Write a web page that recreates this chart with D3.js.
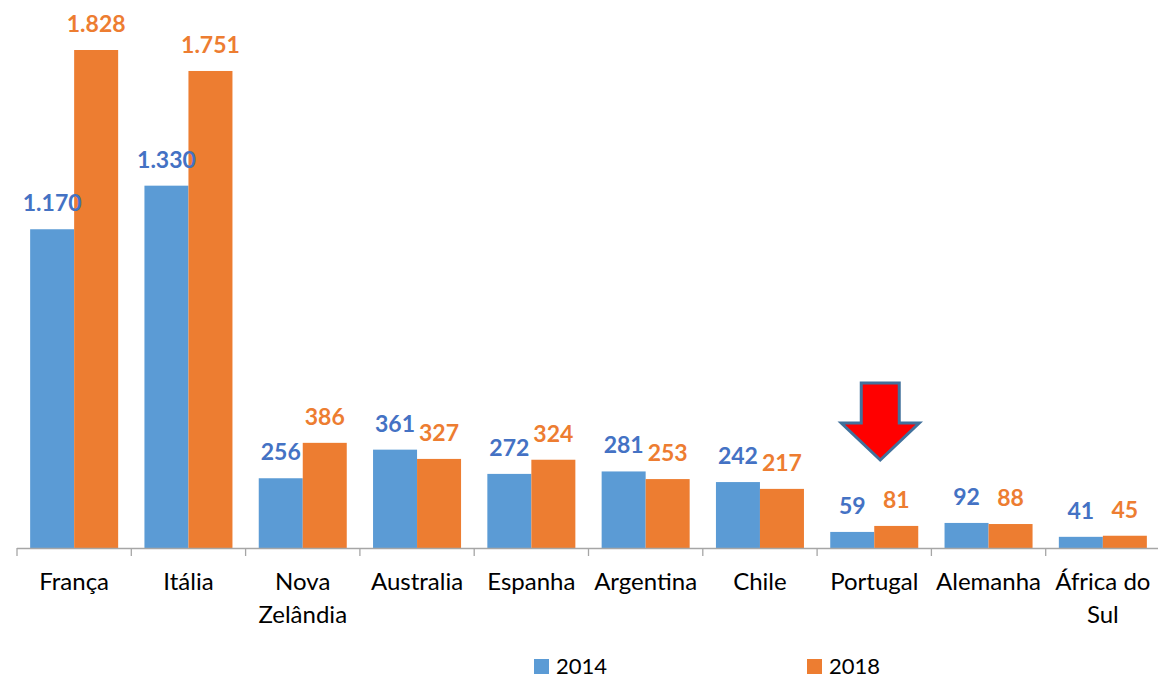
<!DOCTYPE html>
<html>
<head>
<meta charset="utf-8">
<script src="https://cdn.jsdelivr.net/npm/d3@7"></script>
<style>
  body { margin: 0; background: #fff; }
  text { font-family: Lato, "Open Sans", sans-serif; }
</style>
</head>
<body>
<div id="chart"></div>
<script>
// data
const countries = ["França", "Itália", "Nova Zelândia", "Australia", "Espanha", "Argentina", "Chile", "Portugal", "Alemanha", "África do Sul"];
const labelLines = [["França"], ["Itália"], ["Nova", "Zelândia"], ["Australia"], ["Espanha"], ["Argentina"], ["Chile"], ["Portugal"], ["Alemanha"], ["África do", "Sul"]];
const values2014 = [1170, 1330, 256, 361, 272, 281, 242, 59, 92, 41];
const values2018 = [1828, 1751, 386, 327, 324, 253, 217, 81, 88, 45];
const seriesNames = ["2014", "2018"];

const width = 1158, height = 679;
const barColors = ["#5B9BD5", "#ED7D31"];
const labelColors = ["#4472C4", "#ED7D31"];

const svg = d3.select("#chart").append("svg")
    .attr("width", width)
    .attr("height", height);

const x = d3.scaleBand()
    .domain(countries)
    .range([17, 1160])
    .paddingInner(0.23)
    .paddingOuter(0.115);

const x1 = d3.scaleBand()
    .domain(seriesNames)
    .range([0, x.bandwidth()]);

const y = d3.scaleLinear()
    .domain([0, 1828])
    .range([548, 50]);

const rows = countries.map((c, i) => ({country: c, vals: [values2014[i], values2018[i]]}));

// bars
const groups = svg.append("g").selectAll("g")
    .data(rows)
    .join("g")
    .attr("transform", d => "translate(" + x(d.country) + ",0)");

groups.selectAll("rect")
    .data(d => d.vals.map((v, k) => ({key: seriesNames[k], k: k, v: v})))
    .join("rect")
    .attr("x", d => x1(d.key))
    .attr("width", x1.bandwidth())
    .attr("y", d => y(d.v))
    .attr("height", d => y(0) - y(d.v))
    .attr("fill", d => barColors[d.k]);

const fmt = d3.formatLocale({decimal: ",", thousands: ".", grouping: [3]}).format(",");

groups.selectAll("text.val")
    .data(d => d.vals.map((v, k) => ({key: seriesNames[k], k: k, v: v})))
    .join("text")
    .attr("class", "val")
    .attr("x", d => x1(d.key) + x1.bandwidth() / 2)
    .attr("y", d => y(d.v) - 18)
    .attr("text-anchor", "middle")
    .attr("font-size", 23)
    .attr("font-weight", "bold")
    .attr("fill", d => labelColors[d.k])
    .text(d => fmt(d.v));

// axis
const step = x.step();
const axis = svg.append("g");
axis.append("line")
    .attr("x1", 17).attr("x2", 1160)
    .attr("y1", y(0) + 0.5).attr("y2", y(0) + 0.5)
    .attr("stroke", "#a6a6a6").attr("stroke-width", 1.3);
axis.selectAll("line.tick")
    .data(d3.range(countries.length + 1))
    .join("line")
    .attr("class", "tick")
    .attr("x1", i => 17 + i * step).attr("x2", i => 17 + i * step)
    .attr("y1", y(0)).attr("y2", y(0) + 8)
    .attr("stroke", "#a6a6a6").attr("stroke-width", 1.3);

axis.selectAll("text")
    .data(countries)
    .join("text")
    .attr("x", d => x(d) + x.bandwidth() / 2)
    .attr("y", 590)
    .attr("text-anchor", "middle")
    .attr("font-size", 24)
    .attr("fill", "#000")
    .each(function(d, i) {
        d3.select(this).selectAll("tspan")
            .data(labelLines[i])
            .join("tspan")
            .attr("x", x(d) + x.bandwidth() / 2)
            .attr("dy", (t, j) => j === 0 ? 0 : 33)
            .text(t => t);
    });

// arrow pointing at Portugal
const ax = x("Portugal") + x.bandwidth() / 2 + 6;
const arrowPts = [
    [ax - 19, 383], [ax + 19, 383], [ax + 19, 423], [ax + 39, 423],
    [ax, 460], [ax - 39, 423], [ax - 19, 423]
];
svg.append("polygon")
    .attr("points", arrowPts.map(p => p.join(",")).join(" "))
    .attr("fill", "#FF0000")
    .attr("stroke", "#41719C")
    .attr("stroke-width", 3)
    .attr("stroke-linejoin", "miter");

// legend
const legendX = [534, 807];
const legend = svg.append("g").selectAll("g")
    .data(seriesNames)
    .join("g")
    .attr("transform", (d, i) => "translate(" + legendX[i] + ",659)");
legend.append("rect")
    .attr("width", 15).attr("height", 15)
    .attr("fill", (d, i) => barColors[i]);
legend.append("text")
    .attr("x", 22).attr("y", 15)
    .attr("font-size", 22)
    .attr("fill", "#000")
    .text(d => d);
</script>
</body>
</html>
